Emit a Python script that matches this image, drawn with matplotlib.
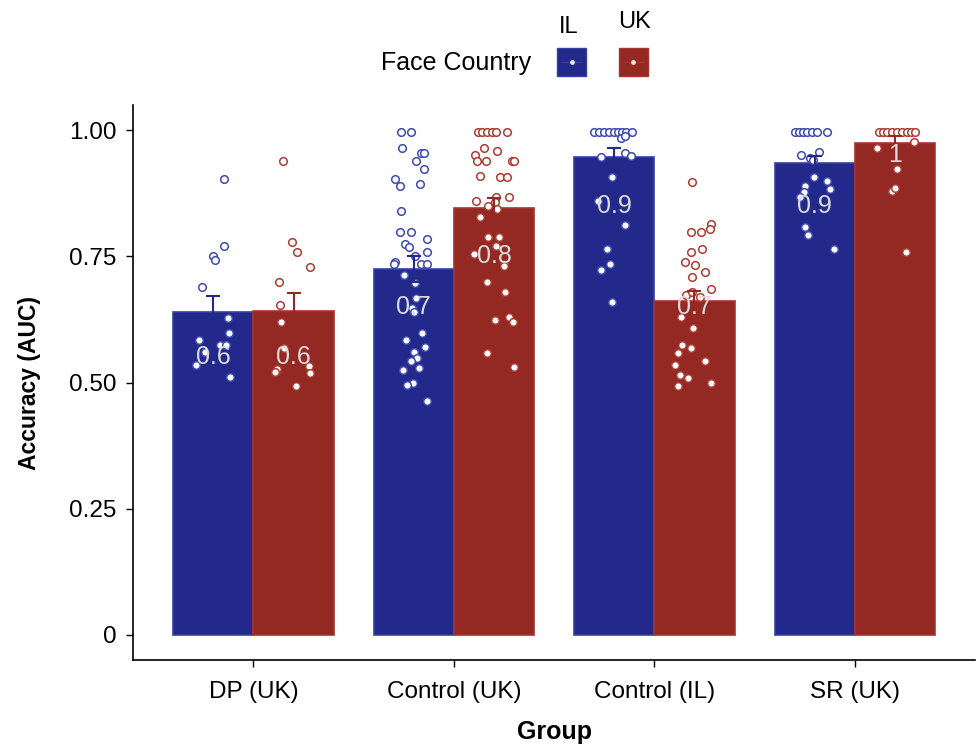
import matplotlib
matplotlib.use("Agg")
import matplotlib.pyplot as plt
from matplotlib.patches import Rectangle
import numpy as np

plt.rcParams['font.family'] = ['Liberation Sans', 'DejaVu Sans']

groups = ["DP (UK)", "Control (UK)", "Control (IL)", "SR (UK)"]
countries = ["IL", "UK"]

mean_IL = [0.640, 0.725, 0.947, 0.935]
mean_UK = [0.641, 0.846, 0.661, 0.974]
se_IL = [0.031, 0.026, 0.018, 0.013]
se_UK = [0.037, 0.020, 0.021, 0.014]

obs_IL = [
    [(0.052, 0.904), (0.054, 0.770), (0.0, 0.750), (0.01, 0.743), (-0.055, 0.690),
     (0.075, 0.628), (0.078, 0.599), (-0.07, 0.584), (0.035, 0.575), (0.065, 0.575),
     (-0.043, 0.560), (-0.085, 0.535), (0.085, 0.510)],
    [(-0.065, 0.997), (-0.015, 0.997), (-0.06, 0.964), (0.035, 0.954), (0.05, 0.954),
     (0.013, 0.939), (0.05, 0.923), (-0.094, 0.904), (-0.07, 0.889), (0.03, 0.894),
     (-0.062, 0.840), (-0.07, 0.799), (-0.015, 0.799), (0.064, 0.785), (-0.045, 0.774),
     (-0.022, 0.768), (0.066, 0.759), (-0.094, 0.739), (-0.1, 0.734), (0.008, 0.751),
     (0.035, 0.734), (0.068, 0.734), (-0.048, 0.713), (0.007, 0.698), (0.013, 0.667),
     (-0.007, 0.648), (0.0, 0.639), (0.04, 0.599), (-0.04, 0.585), (0.055, 0.570),
     (0.0, 0.560), (0.018, 0.549), (-0.012, 0.543), (-0.056, 0.525), (0.028, 0.529),
     (-0.004, 0.500), (-0.032, 0.495), (0.068, 0.464)],
    [(-0.1, 0.997), (-0.075, 0.997), (-0.05, 0.997), (-0.025, 0.997), (0.0, 0.997),
     (0.02, 0.997), (0.04, 0.997), (0.06, 0.997), (0.09, 0.997), (0.032, 0.984),
     (0.052, 0.989), (-0.068, 0.946), (0.052, 0.954), (0.082, 0.948), (-0.012, 0.908),
     (-0.082, 0.860), (0.052, 0.813), (-0.035, 0.764), (-0.022, 0.734), (-0.065, 0.723),
     (-0.012, 0.660)],
    [(-0.098, 0.997), (-0.08, 0.997), (-0.06, 0.997), (-0.04, 0.997), (-0.015, 0.997),
     (0.01, 0.997), (0.06, 0.997), (-0.07, 0.950), (-0.024, 0.944), (0.022, 0.956),
     (-0.007, 0.941), (-0.002, 0.908), (0.06, 0.899), (-0.048, 0.889), (0.074, 0.883),
     (-0.055, 0.878), (-0.074, 0.868), (-0.048, 0.809), (-0.035, 0.793), (0.094, 0.764)],
]
obs_UK = [
    [(-0.053, 0.939), (-0.008, 0.779), (0.017, 0.759), (0.082, 0.729), (-0.072, 0.699),
     (-0.065, 0.654), (-0.06, 0.619), (-0.048, 0.568), (-0.082, 0.527), (-0.094, 0.520),
     (0.078, 0.533), (0.082, 0.519), (0.01, 0.494)],
    [(-0.08, 0.997), (-0.06, 0.997), (-0.035, 0.997), (-0.01, 0.997), (0.01, 0.997),
     (0.065, 0.997), (-0.052, 0.964), (0.017, 0.958), (-0.095, 0.950), (-0.087, 0.939),
     (-0.04, 0.939), (0.09, 0.939), (0.098, 0.939), (-0.068, 0.910), (0.03, 0.908),
     (0.064, 0.908), (-0.09, 0.860), (0.01, 0.868), (0.074, 0.868), (-0.028, 0.849),
     (0.007, 0.857), (0.014, 0.844), (-0.07, 0.829), (-0.028, 0.789), (0.024, 0.789),
     (0.01, 0.770), (-0.1, 0.754), (0.052, 0.735), (0.048, 0.731), (-0.035, 0.700),
     (0.054, 0.679), (0.005, 0.624), (0.077, 0.630), (0.094, 0.619), (-0.035, 0.558),
     (0.1, 0.530)],
    [(-0.012, 0.898), (0.082, 0.814), (0.077, 0.804), (-0.015, 0.799), (0.035, 0.799),
     (-0.018, 0.759), (0.038, 0.764), (-0.045, 0.739), (0.005, 0.733), (0.052, 0.719),
     (-0.01, 0.710), (0.082, 0.685), (-0.042, 0.673), (-0.012, 0.680), (0.027, 0.670),
     (-0.068, 0.629), (-0.007, 0.609), (-0.062, 0.574), (-0.018, 0.569), (-0.082, 0.558),
     (0.052, 0.543), (-0.095, 0.535), (-0.074, 0.514), (-0.032, 0.508), (-0.082, 0.494),
     (0.085, 0.499)],
    [(-0.08, 0.997), (-0.06, 0.997), (-0.04, 0.997), (-0.015, 0.997), (0.01, 0.997),
     (0.035, 0.997), (0.06, 0.997), (0.08, 0.997), (0.1, 0.997), (0.094, 0.977),
     (-0.087, 0.964), (0.01, 0.923), (-0.012, 0.879), (0.0, 0.885), (0.057, 0.759)],
]

y_ticks = [0, 0.25, 0.50, 0.75, 1.00]
y_ticklabels = ["0", "0.25", "0.50", "0.75", "1.00"]

col_fill = {"IL": "#22298b", "UK": "#942822"}
col_edge = {"IL": "#3340a6", "UK": "#a8342d"}
col_pt = {"IL": "#3d4ab0", "UK": "#ac3b34"}

fig = plt.figure(figsize=(9.79, 7.5), dpi=100)
ax = fig.add_axes([0.136, 0.12, 0.86, 0.74])

x = np.arange(1, len(groups) + 1)
w = 0.4
for k, c in enumerate(countries):
    means = mean_IL if c == "IL" else mean_UK
    ses = se_IL if c == "IL" else se_UK
    obs = obs_IL if c == "IL" else obs_UK
    pos = x + (k - 0.5) * w
    ax.bar(pos, means, width=w, color=col_fill[c], edgecolor=col_edge[c],
           linewidth=1.2, zorder=2)
    for p, m in zip(pos, means):
        r = round(m, 1)
        ax.text(p, r - 0.05, "%g" % r, ha="center", va="center",
                fontsize=18, color="#dcdcdc", zorder=5)
    for p, o in zip(pos, obs):
        xs = [p + d for d, v in o]
        vs = [v for d, v in o]
        ax.scatter(xs, vs, s=30, facecolor="white", edgecolor=col_pt[c],
                   linewidth=1.1, zorder=3)
    ax.errorbar(pos, means, yerr=ses, fmt="none", ecolor=col_fill[c],
                elinewidth=1.5, capsize=5, capthick=1.5, zorder=4)

ax.set_xlim(0.4, 4.6)
ax.set_ylim(-0.05, 1.05)
ax.set_xticks(x)
ax.set_xticklabels(groups, fontsize=17.5)
ax.set_yticks(y_ticks)
ax.set_yticklabels(y_ticklabels, fontsize=17.5)
ax.tick_params(axis="both", direction="out", length=5, width=1, colors="black", pad=7)
ax.tick_params(axis="x", pad=10)
for s in ["top", "right"]:
    ax.spines[s].set_visible(False)
for s in ["left", "bottom"]:
    ax.spines[s].set_linewidth(1.2)
ax.set_xlabel("Group", fontsize=18, fontweight="bold", labelpad=12)
ax.set_ylabel("Accuracy (AUC)", fontsize=16.5, fontweight="bold", labelpad=20)

# legend (title left, labels above keys)
W, H = 979.0, 750.0
fig.text(381 / W, 1 - 63 / H, "Face Country", fontsize=18, ha="left", va="center")
key_x = [557, 619]
lab_x = [569, 635]
lab_y = [27, 22]
for c, kx, lx, ly in zip(countries, key_x, lab_x, lab_y):
    fig.add_artist(Rectangle((kx / W, 1 - 76 / H), 29 / W, 28 / H,
                             transform=fig.transFigure, facecolor=col_fill[c],
                             edgecolor=col_edge[c], linewidth=1))
    fig.add_artist(plt.Line2D([(kx + 4) / W, (kx + 25) / W], [1 - 62 / H, 1 - 62 / H],
                              transform=fig.transFigure, color=col_edge[c], linewidth=0.8))
    fig.add_artist(plt.Line2D([(kx + 14.5) / W], [1 - 62 / H], transform=fig.transFigure,
                              marker="o", markersize=2.5, markerfacecolor="white",
                              markeredgecolor="#dddddd", linestyle="none"))
    fig.text(lx / W, 1 - ly / H, c, fontsize=17, ha="center", va="center")

fig.savefig("out.png", dpi=100)
